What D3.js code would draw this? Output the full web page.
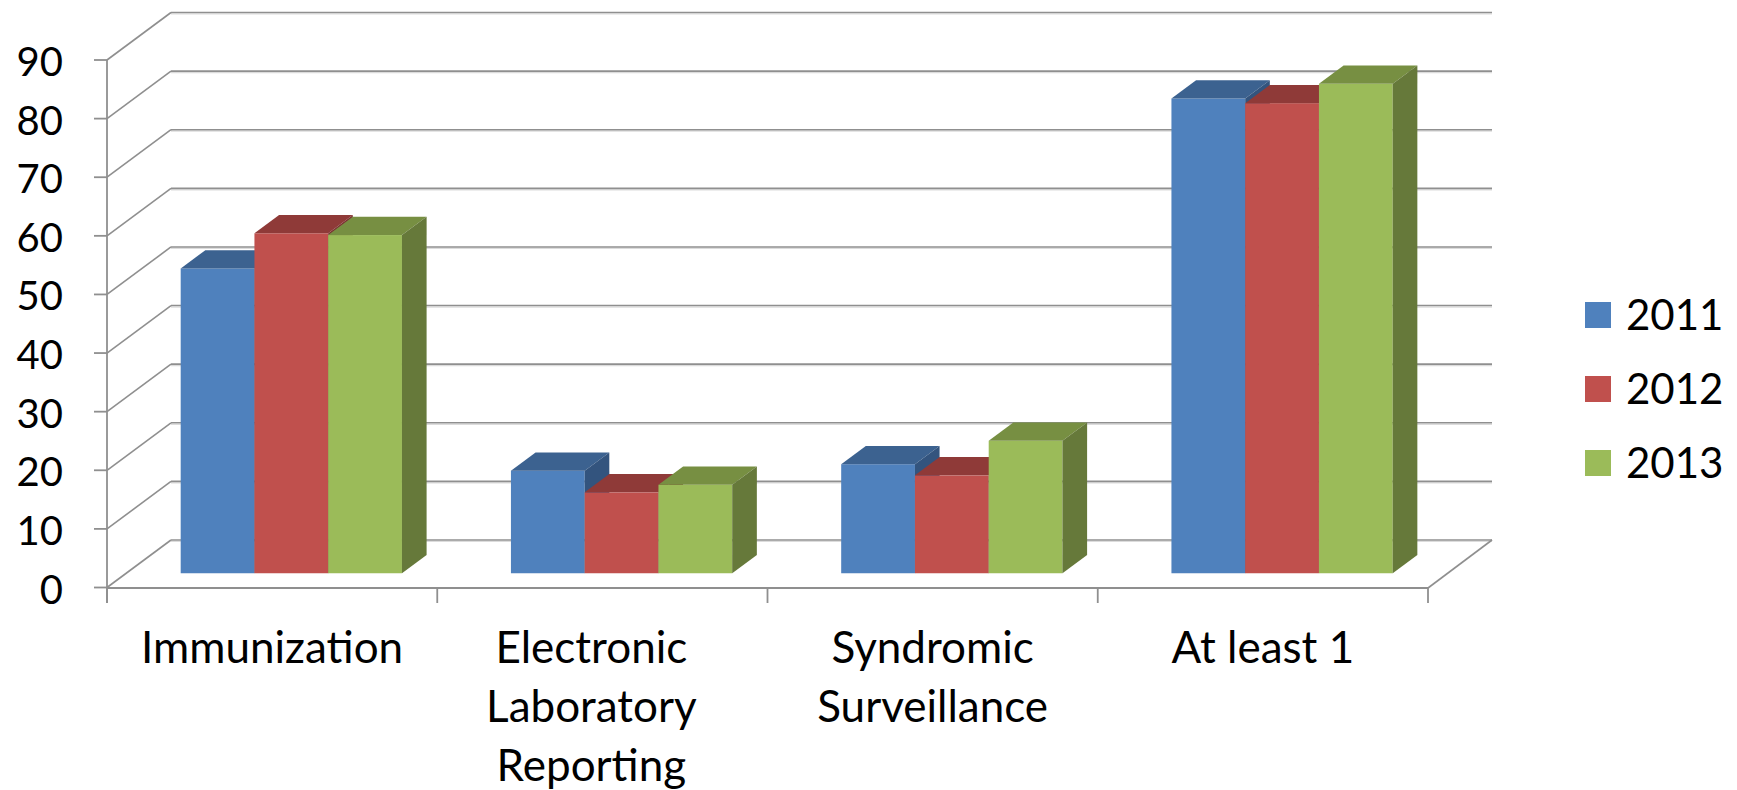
<!DOCTYPE html>
<html>
<head>
<meta charset="utf-8">
<script src="https://cdn.jsdelivr.net/npm/d3@7"></script>
<style>
  html, body { margin: 0; padding: 0; background: #ffffff; }
  svg { display: block; }
  text { font-family: Lato, "Open Sans", sans-serif; fill: #000; }
</style>
</head>
<body>
<svg id="chart" width="1737" height="790"></svg>
<script>
// ---- data ----
const categories = ["Immunization", "Electronic Laboratory Reporting", "Syndromic Surveillance", "At least 1"];
const categoryLines = [["Immunization"], ["Electronic", "Laboratory", "Reporting"], ["Syndromic", "Surveillance"], ["At least 1"]];
const seriesNames = ["2011", "2012", "2013"];
const values2011 = [52, 17.5, 18.6, 81];
const values2012 = [58, 13.8, 16.7, 80.2];
const values2013 = [57.7, 15.1, 22.6, 83.5];
const yTicks = [0, 10, 20, 30, 40, 50, 60, 70, 80, 90];

const seriesValues = [values2011, values2012, values2013];
const frontColors = ["#4F81BD", "#C0504D", "#9BBB59"];
const topColors   = ["#3C6290", "#8F3A38", "#778F42"];
const sideColors  = ["#33547E", "#7C3331", "#66793A"];

// ---- layout ----
const svg = d3.select("#chart");
const plotLeft = 107, plotRight = 1428;
const depthDx = 64, depthDy = 47.5;       // oblique offset of the back wall
const barFront = 0.3, barDepth = 0.385;   // bar position inside the depth (fractions)
const labelNudge = [0, -11, 0, 0];        // horizontal nudge of wrapped category labels

const y = d3.scaleLinear().domain([0, 90]).range([587.5, 60]);
const x0 = d3.scaleBand().domain(categories).range([plotLeft, plotRight]);
const x1 = d3.scaleBand().domain(seriesNames)
  .range([x0.bandwidth() * 0.165, x0.bandwidth() * 0.835]);

const gridColor = "#8f8f8f";
const grid = svg.append("g");

// back wall gridlines and side-wall diagonals
yTicks.forEach(v => {
  const yf = y(v), yb = y(v) - depthDy;
  grid.append("line")
    .attr("x1", plotLeft + depthDx).attr("x2", plotRight + depthDx)
    .attr("y1", yb + 1.5).attr("y2", yb + 1.5)
    .attr("stroke", "#dcdcdc").attr("stroke-width", 1.2);
  grid.append("line")
    .attr("x1", plotLeft + depthDx).attr("x2", plotRight + depthDx)
    .attr("y1", yb).attr("y2", yb)
    .attr("stroke", gridColor).attr("stroke-width", 1.6);
  grid.append("line")
    .attr("x1", plotLeft).attr("y1", yf)
    .attr("x2", plotLeft + depthDx).attr("y2", yb)
    .attr("stroke", gridColor).attr("stroke-width", 1.6);
  // axis tick
  grid.append("line")
    .attr("x1", plotLeft - 13).attr("x2", plotLeft)
    .attr("y1", yf).attr("y2", yf)
    .attr("stroke", gridColor).attr("stroke-width", 1.8);
});

// floor front edge and right edge
const yFloor = y(0) + 0.5;
grid.append("line")
  .attr("x1", plotLeft).attr("x2", plotRight)
  .attr("y1", yFloor).attr("y2", yFloor)
  .attr("stroke", gridColor).attr("stroke-width", 1.8);
grid.append("line")
  .attr("x1", plotRight).attr("y1", yFloor)
  .attr("x2", plotRight + depthDx).attr("y2", y(0) - depthDy)
  .attr("stroke", gridColor).attr("stroke-width", 1.6);

// vertical value axis
grid.append("line")
  .attr("x1", plotLeft).attr("x2", plotLeft)
  .attr("y1", y(90)).attr("y2", yFloor + 15)
  .attr("stroke", gridColor).attr("stroke-width", 1.8);

// category ticks
const catTicks = categories.map(c => x0(c)).concat([plotRight]);
catTicks.forEach(xv => {
  grid.append("line")
    .attr("x1", xv).attr("x2", xv)
    .attr("y1", yFloor).attr("y2", yFloor + 15)
    .attr("stroke", gridColor).attr("stroke-width", 1.8);
});

// value labels
svg.append("g").selectAll("text").data(yTicks).join("text")
  .attr("x", 63).attr("y", d => y(d) + 16)
  .attr("text-anchor", "end")
  .style("font-size", "40px")
  .text(d => d);

// ---- 3D columns ----
const sdx = barDepth * depthDx, sdy = barDepth * depthDy;
const bars = svg.append("g");
categories.forEach((cat, ci) => {
  seriesNames.forEach((s, si) => {
    const v = seriesValues[si][ci];
    const w = x1.bandwidth();
    const xf = x0(cat) + x1(s) + barFront * depthDx;
    const yb = y(0) - barFront * depthDy;
    const yt = y(v) - barFront * depthDy;
    const g = bars.append("g");
    g.append("rect")
      .attr("x", xf).attr("y", yt)
      .attr("width", w).attr("height", yb - yt)
      .attr("fill", frontColors[si]);
    g.append("polygon")
      .attr("points", [[xf, yt], [xf + w, yt], [xf + w + sdx, yt - sdy], [xf + sdx, yt - sdy]].join(" "))
      .attr("fill", topColors[si]);
    g.append("polygon")
      .attr("points", [[xf + w, yt], [xf + w + sdx, yt - sdy], [xf + w + sdx, yb - sdy], [xf + w, yb]].join(" "))
      .attr("fill", sideColors[si]);
  });
});

// category labels
const catG = svg.append("g");
categories.forEach((cat, ci) => {
  const cx = x0(cat) + x0.bandwidth() / 2 + labelNudge[ci];
  const t = catG.append("text")
    .attr("text-anchor", "middle")
    .style("font-size", "44px");
  categoryLines[ci].forEach((line, li) => {
    t.append("tspan").attr("x", cx).attr("y", 663 + li * 59).text(line);
  });
});

// legend
const legend = svg.append("g");
seriesNames.forEach((s, si) => {
  const cy = 315 + si * 74;
  legend.append("rect")
    .attr("x", 1585).attr("y", cy - 13)
    .attr("width", 26).attr("height", 26)
    .attr("fill", frontColors[si]);
  legend.append("text")
    .attr("x", 1626).attr("y", cy + 15)
    .style("font-size", "42px")
    .text(s);
});
</script>
</body>
</html>
